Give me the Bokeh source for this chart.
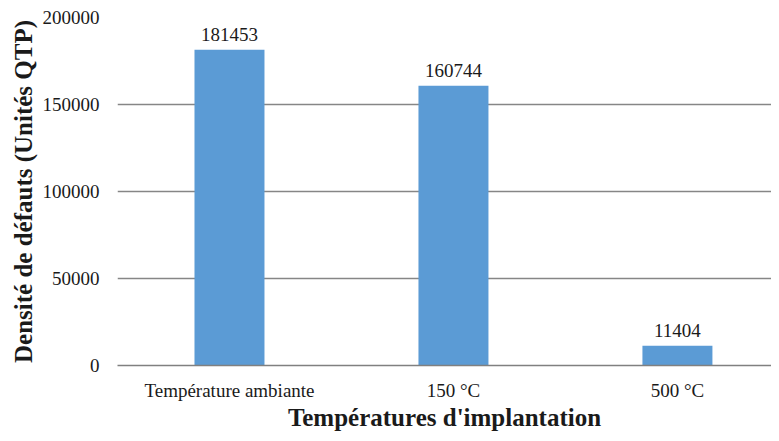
from bokeh.plotting import figure
from bokeh.models import Range1d, FixedTicker, ColumnDataSource
from bokeh.embed import file_html
from bokeh.resources import INLINE
from bokeh.core.properties import value

categories = ["Température ambiante", "150 °C", "500 °C"]
densities = [181453, 160744, 11404]
y_ticks = [0, 50000, 100000, 150000, 200000]

xpos = [i + 0.5 for i in range(len(categories))]
src = ColumnDataSource(dict(x=xpos, top=densities, label=[str(v) for v in densities]))

FONT = "Liberation Serif"

p = figure(width=771, height=433, output_backend="svg", toolbar_location=None,
           x_range=Range1d(0, 2.92), y_range=Range1d(0, 200000),
           min_border_left=117, min_border_right=0, min_border_top=17, min_border_bottom=60)
p.outline_line_color = None
p.background_fill_color = "white"
p.border_fill_color = "white"

p.vbar(x="x", top="top", width=0.3125, bottom=0, source=src,
       fill_color="#5B9BD5", line_color=None)
p.text(x="x", y="top", text="label", source=src, text_align="center",
       text_baseline="alphabetic", y_offset=-15, text_font=value(FONT),
       text_font_size="19px", text_color="#1a1a1a")

# x axis
p.xaxis.ticker = FixedTicker(ticks=xpos)
p.xaxis.major_label_overrides = {x: c for x, c in zip(xpos, categories)}
p.xaxis.major_tick_line_color = None
p.xaxis.minor_tick_line_color = None
p.xaxis.axis_line_color = "#808080"
p.xaxis.axis_line_width = 1.5
p.xaxis.major_label_text_font = FONT
p.xaxis.major_label_text_font_size = "19px"
p.xaxis.major_label_text_line_height = 1.0
p.xaxis.major_label_text_color = "#1a1a1a"
p.xaxis.major_label_standoff = 8
p.xaxis.axis_label = "Températures d'implantation"
p.xaxis.axis_label_text_font = FONT
p.xaxis.axis_label_text_font_style = "bold"
p.xaxis.axis_label_text_font_size = "25px"
p.xaxis.axis_label_text_line_height = 1.0
p.xaxis.axis_label_text_color = "#1a1a1a"
p.xaxis.axis_label_standoff = 0

# y axis
p.yaxis.ticker = FixedTicker(ticks=y_ticks)
p.yaxis.major_label_overrides = {t: str(t) for t in y_ticks}
p.yaxis.axis_line_color = None
p.yaxis.major_tick_line_color = None
p.yaxis.minor_tick_line_color = None
p.yaxis.major_label_text_font = FONT
p.yaxis.major_label_text_font_size = "19px"
p.yaxis.major_label_text_color = "#1a1a1a"
p.yaxis.major_label_standoff = 12
p.yaxis.axis_label = "Densité de défauts (Unités QTP)"
p.yaxis.axis_label_text_font = FONT
p.yaxis.axis_label_text_font_style = "bold"
p.yaxis.axis_label_text_font_size = "25px"
p.yaxis.axis_label_text_color = "#1a1a1a"
p.yaxis.axis_label_standoff = 3

p.xgrid.grid_line_color = None
p.ygrid.grid_line_color = "#868686"
p.ygrid.grid_line_width = 1.5

open("out.html", "w").write(file_html(p, INLINE))
